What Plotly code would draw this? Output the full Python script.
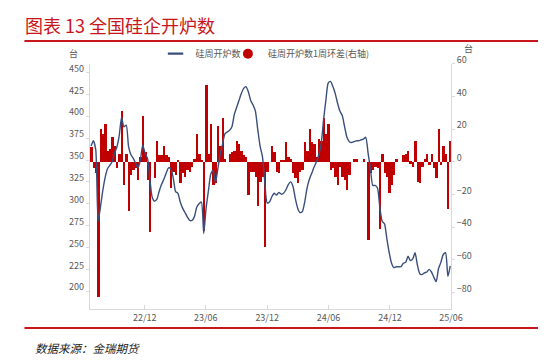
import pandas as pd
import plotly.graph_objects as go

# ---------------- data ----------------
start_date = "2022-06-24"
n_weeks = 154

furnace_count = [
    366, 372, 362, 280, 296, 315, 330, 340, 344, 348,
    358, 365, 378, 399, 388, 390, 365, 356, 352, 346,
    341, 350, 367, 358, 352, 330, 308, 303, 305, 314,
    322, 328, 335, 341, 340, 330, 314, 312, 302, 295,
    290, 285, 281, 281, 285, 296, 300, 302, 266, 295,
    315, 334, 338, 324, 340, 357, 368, 380, 382, 384,
    388, 402, 410, 418, 426, 432, 434, 428, 418, 413,
    406, 385, 366, 354, 325, 301, 302, 308, 312, 310,
    313, 311, 312, 316, 322, 325, 320, 306, 295, 290,
    291, 302, 318, 328, 335, 342, 348, 356, 368, 395,
    418, 438, 440, 434, 426, 415, 406, 401, 388, 376,
    371, 370, 371, 372, 372, 373, 374, 376, 358, 340,
    321, 321, 318, 296, 280, 277, 260, 244, 232, 227,
    228, 228, 228, 232, 233, 240, 235, 237, 244, 230,
    220, 219, 221, 222, 225, 222, 216, 211, 226, 233,
    242, 244, 217, 229,
]

weekly_change = [
    9, -4, -7, -83, 20, 17, 23, 7, 8, 15, 10, -4, 5, 31, -14, 5, -30, -8, -5, -4,
    -11, 3, 28, 6, -11, -43, 0, -10, 13, 4, 4, 10, 4, 3, -16, -6, -8, 1,
    -13, -7, -9, -5, -6, -3, 2, 17, 5, 1, -42, 47, 5, 23, -14, -13,
    22, 10, 27, 2, 0, 5, 6, 7, 13, 11, 7, 4,
    3, -20, -6, -6, -9, -27, -12, -9, -52, -6, 0,
    10, 6, -6, -7, 1, 1, 12, 3, 2, -7, -10, -13, -6, -5,
    12, 7, 20, 12, 11, 3, 14, 13, 27, 17, 23,
    -5, -4, -9, -14, -3, -9, -11, -17, -8,
    0, 2, 2, 0, 0, 2, 0,
    -48, -7, -5, -3, -4, -41, 5, -7, -9, -19, -14, -8,
    2, 0, 0, 4, 5, 7, -1, -3, 13, -12, -13, -3, 2, 5, -2, 5, -4, -10, 20, -2, 10, 5, -29, 13,
]

tick_dates = ["2022-12-01", "2023-06-01", "2023-12-01", "2024-06-01", "2024-12-01", "2025-06-01"]
tick_labels = ["22/12", "23/06", "23/12", "24/06", "24/12", "25/06"]

name_line = "硅周开炉数"
name_bar = "硅周开炉数1周环差(右轴)"
title_text = "图表 13 全国硅企开炉数"
source_text = "数据来源：金瑞期货"

dates = pd.date_range(start_date, periods=n_weeks, freq="7D")

# ---------------- style ----------------
RED = "#C00000"
NAVY = "#3A4E7C"
GREY = "#595959"
AXIS = "#D9D9D9"
FONT = "Noto Sans CJK SC, Noto Sans, sans-serif"

W, H = 550, 364
L, R, T, B = 91.7, 461.0, 54.5, 307.0


def fx(px):
    return px / W


def fy(py):
    return 1 - py / H


fig = go.Figure()

fig.add_trace(go.Bar(
    x=dates, y=weekly_change, yaxis="y",
    marker=dict(color=RED, line=dict(width=0)),
    showlegend=False, name=name_bar,
))
fig.add_trace(go.Scatter(
    x=dates, y=furnace_count, yaxis="y2", mode="lines",
    line=dict(color=NAVY, width=1.4, shape="spline", smoothing=0.6),
    showlegend=False, name=name_line,
))
# legend entries
fig.add_trace(go.Scatter(
    x=[None], y=[None], mode="markers", name=name_line, legend="legend",
    marker=dict(symbol="line-ew", size=11, line=dict(color=NAVY, width=2.2)),
))
fig.add_trace(go.Scatter(
    x=[None], y=[None], mode="markers", name=name_bar, legend="legend2",
    marker=dict(symbol="circle", size=10, color=RED),
))

fig.update_layout(
    width=W, height=H,
    margin=dict(l=0, r=0, t=0, b=0),
    paper_bgcolor="white", plot_bgcolor="white",
    font=dict(family=FONT, size=9, color=GREY),
    bargap=0,
    xaxis=dict(
        domain=[fx(L), fx(R)],
        type="date", range=["2022-06-20", "2025-06-01"],
        tickvals=tick_dates, ticktext=tick_labels,
        ticks="inside", ticklen=4, tickcolor=AXIS,
        showline=True, linecolor=AXIS, linewidth=1,
        showgrid=False, zeroline=False,
        tickfont=dict(size=9, color=GREY),
    ),
    yaxis=dict(
        domain=[fy(B), fy(T)],
        side="right", range=[-90, 60], tick0=0, dtick=20,
        showline=True, linecolor=AXIS, linewidth=1,
        ticks="outside", ticklen=3, tickcolor=AXIS,
        showgrid=False, zeroline=False, ticklabelshift=-4,
        tickfont=dict(size=9, color=GREY),
    ),
    yaxis2=dict(
        overlaying="y", side="left", range=[180, 460], tick0=0, dtick=25,
        showline=True, linecolor=AXIS, linewidth=1,
        ticks="outside", ticklen=3, tickcolor=AXIS,
        showgrid=False, zeroline=False, ticklabelshift=-4,
        tickfont=dict(size=9, color=GREY),
    ),
    legend=dict(
        orientation="h", x=fx(159), y=fy(44), xanchor="left", yanchor="middle",
        font=dict(size=9, color=GREY), bgcolor="rgba(0,0,0,0)", itemwidth=30,
    ),
    legend2=dict(
        orientation="h", x=fx(233), y=fy(44), xanchor="left", yanchor="middle",
        font=dict(size=9, color=GREY), bgcolor="rgba(0,0,0,0)", itemwidth=30,
    ),
    showlegend=True,
)

fig.add_annotation(
    text=title_text, xref="paper", yref="paper",
    x=fx(24), y=fy(14), xanchor="left", yanchor="middle",
    showarrow=False, font=dict(family=FONT, size=18, color="#C8161D"),
)
fig.add_annotation(
    text=source_text, xref="paper", yref="paper",
    x=fx(34), y=fy(348), xanchor="left", yanchor="middle",
    showarrow=False, font=dict(family=FONT, size=11.5, color="#222222", style="italic"),
)
fig.add_annotation(
    text="台", xref="paper", yref="paper",
    x=fx(75), y=fy(44), xanchor="center", yanchor="middle",
    showarrow=False, font=dict(family=FONT, size=9, color=GREY),
)
fig.add_annotation(
    text="台", xref="paper", yref="paper",
    x=fx(479), y=fy(39), xanchor="center", yanchor="middle",
    showarrow=False, font=dict(family=FONT, size=9, color=GREY),
)

for py in (31, 327):
    fig.add_shape(
        type="line", xref="paper", yref="paper",
        x0=fx(25), x1=fx(550), y0=fy(py), y1=fy(py),
        line=dict(color="#C8161D", width=2),
    )

fig.write_html(
    "out.html",
    config={"displayModeBar": False},
    post_script="document.body.style.margin='0';document.body.style.overflow='hidden';",
)
